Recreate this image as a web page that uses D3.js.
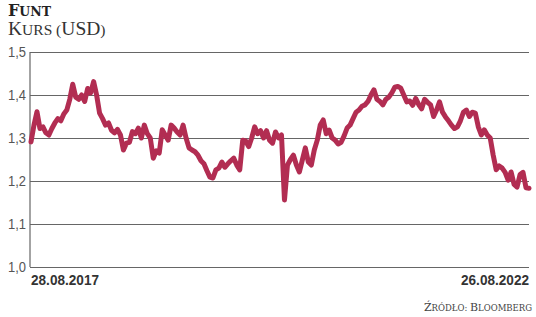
<!DOCTYPE html>
<html><head><meta charset="utf-8">
<script src="https://cdn.jsdelivr.net/npm/d3@7"></script>
<style>
html,body{margin:0;padding:0;background:#fff;}
svg{display:block;}
.up{text-transform:uppercase;}
</style></head>
<body>
<script>
const title = "Funt";
const subtitle = "Kurs (USD)";
const source = "Źródło: Bloomberg";
const dateLabels = ["28.08.2017", "26.08.2022"];
const yTicks = [1.0, 1.1, 1.2, 1.3, 1.4, 1.5];
const values = [
1.291,1.33,1.361,1.322,1.326,1.312,1.307,1.322,1.335,1.345,1.34,1.356,1.365,1.39,1.425,1.395,1.39,1.40,1.385,1.415,
1.405,1.431,1.40,1.358,1.345,1.33,1.335,1.318,1.312,1.32,1.307,1.272,1.288,1.29,1.315,1.31,1.323,1.30,1.33,1.31,
1.30,1.253,1.27,1.265,1.319,1.307,1.295,1.33,1.323,1.314,1.307,1.33,1.30,1.277,1.272,1.268,1.26,1.247,1.24,1.224,
1.209,1.207,1.226,1.23,1.244,1.232,1.24,1.247,1.253,1.237,1.226,1.295,1.293,1.28,1.30,1.326,1.31,1.317,1.30,1.317,
1.295,1.288,1.314,1.30,1.307,1.156,1.237,1.25,1.26,1.237,1.221,1.249,1.277,1.244,1.237,1.272,1.295,1.33,1.342,1.31,
1.318,1.30,1.295,1.286,1.29,1.305,1.323,1.33,1.345,1.36,1.365,1.374,1.377,1.385,1.40,1.412,1.39,1.385,1.377,1.39,
1.395,1.405,1.418,1.42,1.416,1.40,1.384,1.386,1.376,1.392,1.378,1.368,1.39,1.383,1.377,1.35,1.365,1.384,1.36,1.349,
1.34,1.33,1.322,1.326,1.34,1.36,1.365,1.35,1.36,1.358,1.326,1.307,1.319,1.307,1.30,1.26,1.226,1.235,1.23,1.22,
1.202,1.221,1.192,1.186,1.215,1.22,1.184,1.183
];

const W = 536, H = 317;
const m = {left:30, right:529, top:52, bottom:267};
const svg = d3.select("body").append("svg").attr("width", W).attr("height", H);

const x = d3.scaleLinear().domain([0, values.length - 1]).range([m.left + 1, m.right]);
const y = d3.scaleLinear().domain([1.0, 1.5]).range([m.bottom, m.top]);

// pseudo small caps: capitals at big size, lowercase shown as smaller capitals
function smallCaps(sel, str, big, small) {
  const parts = str.match(/(\p{Lu}+|[^\p{Lu}]+)/gu);
  parts.forEach(p => {
    const isUpper = /\p{Lu}/u.test(p);
    sel.append("tspan").attr("class", isUpper ? null : "up")
      .style("font-size", (isUpper ? big : small) + "px").text(p);
  });
}

// title
const t1 = svg.append("text").attr("x", 8).attr("y", 16)
  .style("font-family", "'DejaVu Serif', serif").style("font-weight", "bold").attr("fill", "#222");
smallCaps(t1, title, 16, 12.5);
const t2 = svg.append("text").attr("x", 8).attr("y", 35)
  .style("font-family", "'Liberation Serif', serif").attr("fill", "#333");
smallCaps(t2, subtitle, 19.5, 15.5);

// grid
const yAxis = d3.axisLeft(y).tickValues(yTicks)
  .tickSize(-(m.right - m.left))
  .tickFormat(d => d3.format(".1f")(d).replace(".", ","));
const ga = svg.append("g").attr("transform", `translate(${m.left},0)`).call(yAxis);
ga.select(".domain").remove();
ga.selectAll(".tick line").attr("stroke", "#666").attr("stroke-width", 1.2);
ga.selectAll(".tick text").attr("x", -4).attr("fill", "#555")
  .style("font-family", "'Liberation Sans', sans-serif")
  .style("font-size", "14px").attr("textLength", 18).attr("lengthAdjust", "spacingAndGlyphs");

svg.append("line").attr("x1", m.left).attr("x2", m.left).attr("y1", m.top).attr("y2", m.bottom)
  .attr("stroke", "#666").attr("stroke-width", 1.2);

// line
const line = d3.line().x((d, i) => x(i)).y(d => y(d)).curve(d3.curveLinear);
svg.append("path").datum(values).attr("d", line)
  .attr("fill", "none").attr("stroke", "#b22d52").attr("stroke-width", 5)
  .attr("stroke-linejoin", "round").attr("stroke-linecap", "round");

// date labels
svg.append("text").attr("x", m.left + 1).attr("y", 285).attr("text-anchor", "start")
  .style("font-family", "'Liberation Sans', sans-serif").style("font-weight", "bold")
  .style("font-size", "15px").attr("fill", "#333")
  .attr("textLength", 68).attr("lengthAdjust", "spacingAndGlyphs").text(dateLabels[0]);
svg.append("text").attr("x", m.right - 68).attr("y", 285).attr("text-anchor", "start")
  .style("font-family", "'Liberation Sans', sans-serif").style("font-weight", "bold")
  .style("font-size", "15px").attr("fill", "#333")
  .attr("textLength", 68).attr("lengthAdjust", "spacingAndGlyphs").text(dateLabels[1]);

// source
const s = svg.append("text").attr("x", 532).attr("y", 311).attr("text-anchor", "end")
  .style("font-family", "'DejaVu Serif', serif").attr("fill", "#444");
smallCaps(s, source, 11, 8.5);
</script>
</body></html>
